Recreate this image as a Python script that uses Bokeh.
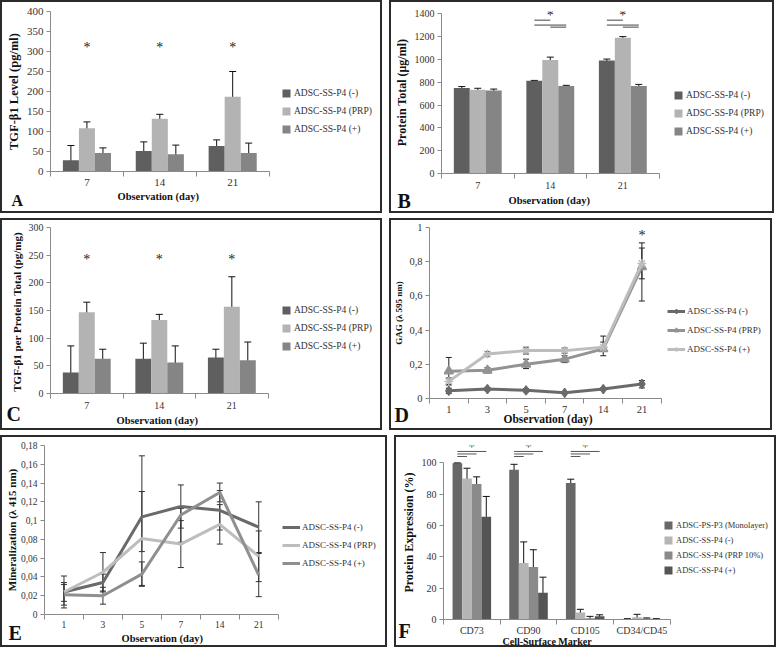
from bokeh.plotting import figure
from bokeh.layouts import column, row
from bokeh.models import (Range1d, FixedTicker, Whisker, TeeHead, Title,
                          ColumnDataSource, Legend, LegendItem)
from bokeh.core.properties import value
from bokeh.embed import file_html
from bokeh.resources import INLINE

SERIF = "Liberation Serif"
PW = 378
AXC = "#8a8a8a"
TXT = "#333333"
HAS_STANDOFF = "standoff" in Title.properties()

# ---------------- data ----------------
days3 = ["7", "14", "21"]
days6 = ["1", "3", "5", "7", "14", "21"]
abc_names = ["ADSC-SS-P4 (-)", "ADSC-SS-P4 (PRP)", "ADSC-SS-P4 (+)"]
bar_colors = ["#5f5f5f", "#b3b3b3", "#858585"]

a_neg = [28, 51, 64];    a_neg_lo = [10, 19, 44];    a_neg_hi = [65, 74, 79]
a_prp = [108, 132, 187]; a_prp_lo = [93, 117, 146];  a_prp_hi = [124, 143, 250]
a_pos = [46, 43, 46];    a_pos_lo = [35, 19, 25];    a_pos_hi = [59, 66, 71]
a_star = [310, 310, 310]

b_neg = [750, 812, 990];  b_neg_lo = [738, 808, 977];  b_neg_hi = [762, 816, 1003]
b_prp = [735, 995, 1190]; b_prp_lo = [723, 970, 1180]; b_prp_hi = [747, 1020, 1200]
b_pos = [728, 768, 768];  b_pos_lo = [716, 763, 755];  b_pos_hi = [740, 773, 781]
b_sig_group = [1, 1, 1, 2, 2, 2]
b_sig_from = [0, 0, 1, 0, 0, 1]
b_sig_to = [1, 2, 2, 1, 2, 2]
b_sig_y = [1344, 1301, 1283, 1344, 1301, 1283]
b_star_group = [1, 2]
b_star_y = [1388, 1388]

c_neg = [38, 63, 65];    c_neg_lo = [12, 24, 42];    c_neg_hi = [86, 91, 80]
c_prp = [147, 133, 157]; c_prp_lo = [138, 117, 122]; c_prp_hi = [165, 143, 211]
c_pos = [63, 56, 60];    c_pos_lo = [55, 24, 31];    c_pos_hi = [80, 86, 93]
c_star = [243, 243, 243]

d_neg = [0.045, 0.055, 0.048, 0.033, 0.055, 0.085]
d_neg_lo = [0.030, 0.045, 0.038, 0.028, 0.047, 0.062]
d_neg_hi = [0.060, 0.065, 0.058, 0.038, 0.063, 0.105]
d_prp = [0.16, 0.165, 0.20, 0.23, 0.29, 0.77]
d_prp_lo = [0.08, 0.15, 0.175, 0.21, 0.25, 0.57]
d_prp_hi = [0.24, 0.18, 0.23, 0.25, 0.33, 0.91]
d_pos = [0.10, 0.26, 0.28, 0.28, 0.30, 0.79]
d_pos_lo = [0.08, 0.245, 0.26, 0.265, 0.28, 0.70]
d_pos_hi = [0.12, 0.275, 0.30, 0.295, 0.365, 0.88]
d_star_idx = [5]
d_star_y = [0.955]

e_neg = [0.024, 0.034, 0.104, 0.115, 0.111, 0.093]
e_neg_lo = [0.014, 0.025, 0.067, 0.092, 0.090, 0.066]
e_neg_hi = [0.034, 0.043, 0.169, 0.138, 0.132, 0.120]
e_prp = [0.024, 0.045, 0.081, 0.075, 0.096, 0.062]
e_prp_lo = [0.007, 0.024, 0.031, 0.050, 0.075, 0.035]
e_prp_hi = [0.041, 0.066, 0.131, 0.100, 0.117, 0.089]
e_pos = [0.021, 0.020, 0.043, 0.106, 0.130, 0.042]
e_pos_lo = [0.010, 0.011, 0.030, 0.077, 0.120, 0.019]
e_pos_hi = [0.032, 0.029, 0.056, 0.113, 0.140, 0.065]

f_cats = ["CD73", "CD90", "CD105", "CD34/CD45"]
f_names = ["ADSC-PS-P3 (Monolayer)", "ADSC-SS-P4 (-)", "ADSC-SS-P4 (PRP 10%)", "ADSC-SS-P4 (+)"]
f_colors = ["#686868", "#b5b5b5", "#8a8a8a", "#555555"]
f_mono = [99.6, 95.5, 87.0, 0.3]; f_mono_lo = [99.3, 92.0, 84.5, 0.1]; f_mono_hi = [99.9, 99.0, 89.5, 0.5]
f_neg = [90.0, 36.0, 4.5, 1.5];   f_neg_lo = [85.5, 24.5, 3.0, 0.0];   f_neg_hi = [96.5, 49.5, 6.5, 3.3]
f_prp = [86.5, 33.5, 0.8, 0.6];   f_prp_lo = [80.0, 17.0, 0.0, 0.2];   f_prp_hi = [91.0, 44.5, 2.0, 1.0]
f_pos = [65.5, 17.0, 2.0, 0.3];   f_pos_lo = [47.0, 11.0, 1.0, 0.1];   f_pos_hi = [78.5, 27.0, 3.0, 0.5]
f_sig_group = [0, 0, 0, 1, 1, 1, 2, 2, 2]
f_sig_to = [1, 2, 3, 1, 2, 3, 1, 2, 3]
f_sig_y = [104.0, 105.6, 107.2, 104.0, 105.6, 107.2, 104.0, 105.6, 107.2]
f_star_group = [0, 1, 2]
f_star_y = [110, 110, 110]


def make_fig(n, xlabels, yr, yticks, ybounds, ylabel, yl_size, xlabel, xl_size, xl_off,
             letter, L, plot_w, top, fh, bottom, tick_size="10px", comma=False, yl_standoff=3,
             x_standoff=3, t1_standoff=1, letter_size="20px", letter_x=4, letter_standoff=-26):
    fw = PW - L
    p = figure(frame_width=fw, frame_height=fh, x_range=Range1d(0, n * fw / plot_w),
               y_range=Range1d(*yr), output_backend="svg", toolbar_location=None,
               min_border_left=L, min_border_right=0, min_border_top=top, min_border_bottom=bottom)
    p.styles = {"border": "2px solid #2b2b2b"}
    p.grid.visible = False
    p.outline_line_color = None
    xa = p.xaxis[0]
    xa.ticker = FixedTicker(ticks=[i + 0.5 for i in range(n)], minor_ticks=list(range(n + 1)))
    xa.major_label_overrides = {i + 0.5: lab for i, lab in enumerate(xlabels)}
    xa.bounds = (0, n)
    xa.major_tick_in = 0
    xa.major_tick_out = 0
    xa.minor_tick_in = 0
    xa.minor_tick_out = 5
    xa.major_label_standoff = x_standoff
    ya = p.yaxis[0]
    ya.ticker = FixedTicker(ticks=yticks)
    if comma:
        ya.major_label_overrides = {t: str(t).replace(".", ",") for t in yticks}
    ya.major_tick_in = 0
    ya.major_tick_out = 4
    ya.major_label_standoff = 3
    ya.bounds = ybounds
    for ax in (xa, ya):
        ax.axis_line_color = AXC
        ax.major_tick_line_color = AXC
        ax.major_label_text_font = SERIF
        ax.major_label_text_font_size = tick_size
        ax.major_label_text_color = TXT
    xa.minor_tick_line_color = AXC
    ya.minor_tick_line_color = None
    ya.axis_label = ylabel
    ya.axis_label_text_font = SERIF
    ya.axis_label_text_font_style = "bold"
    ya.axis_label_text_font_size = yl_size
    ya.axis_label_text_color = "#111111"
    ya.axis_label_standoff = yl_standoff
    t1 = Title(text=xlabel, align="left", offset=xl_off, text_font=SERIF,
               text_font_style="bold", text_font_size=xl_size, text_color="#111111")
    t2 = Title(text=letter, align="left", offset=letter_x - L, text_font=SERIF,
               vertical_align="top", text_font_style="bold", text_font_size=letter_size,
               text_color="#111111")
    if HAS_STANDOFF:
        t1.standoff = t1_standoff
        t2.standoff = letter_standoff
    p.add_layout(t1, "below")
    p.add_layout(t2, "below")
    return p


def whisk(p, xs, lo, hi, size=7, color="#111111"):
    src = ColumnDataSource(dict(x=xs, lo=lo, hi=hi))
    w = Whisker(base="x", lower="lo", upper="hi", source=src, line_color=color, line_width=1,
                upper_head=TeeHead(size=size, line_color=color, line_width=1),
                lower_head=TeeHead(size=size, line_color=color, line_width=1))
    p.add_layout(w)


def add_legend(p, items, x, y, font="9.5px", spacing=8, gw=10, gh=10, standoff=3):
    leg = Legend(items=items, location=(x, y), border_line_color=None,
                 background_fill_alpha=0, label_text_font=SERIF, label_text_font_size=font,
                 label_text_color=TXT, glyph_width=gw, glyph_height=gh, spacing=spacing,
                 label_standoff=standoff, padding=0, margin=0, label_height=10)
    p.add_layout(leg)


def stars(p, xs, ys):
    p.text(x=xs, y=ys, text=["*"] * len(xs), text_align="center", text_baseline="middle",
           text_font=value(SERIF), text_font_size="14px", text_color="#222222")


def bar_panel(p, means, los, his, names, colors, n, width):
    k = len(means)
    items = []
    for j in range(k):
        off = (j - (k - 1) / 2) * width
        xs = [i + 0.5 + off for i in range(n)]
        r = p.vbar(x=xs, top=means[j], width=width, bottom=0, fill_color=colors[j], line_color=None)
        whisk(p, xs, los[j], his[j])
        items.append(LegendItem(label=names[j], renderers=[r]))
    return items


# ---------------- Panel A ----------------
pA = make_fig(3, days3, (0, 400), list(range(0, 401, 50)), (0, 400), "TGF-\u03b21 Level (pg/ml)",
              "12.5px", "Observation (day)", "10.5px", 67, "A", 48, 216, 9, 156, 44,
              tick_size="11px", x_standoff=2, t1_standoff=1, letter_size="16px", letter_x=9,
              letter_standoff=-22)
itA = bar_panel(pA, [a_neg, a_prp, a_pos], [a_neg_lo, a_prp_lo, a_pos_lo],
                [a_neg_hi, a_prp_hi, a_pos_hi], abc_names, bar_colors, 3, 0.22)
stars(pA, [i + 0.5 for i in range(3)], a_star)
add_legend(pA, itA, 231, 37)

# ---------------- Panel B ----------------
pB = make_fig(3, days3, (0, 1420), list(range(0, 1401, 200)), (0, 1400), "Protein Total (\u03bcg/ml)",
              "12px", "Observation  (day)", "10.5px", 67, "B", 47, 215, 7, 158, 44,
              x_standoff=3, t1_standoff=3, letter_x=3, letter_standoff=-35)
itB = bar_panel(pB, [b_neg, b_prp, b_pos], [b_neg_lo, b_prp_lo, b_pos_lo],
                [b_neg_hi, b_prp_hi, b_pos_hi], abc_names, bar_colors, 3, 0.22)
pB.segment(x0=[g + 0.5 + (f - 1) * 0.22 for g, f in zip(b_sig_group, b_sig_from)],
           x1=[g + 0.5 + (t - 1) * 0.22 for g, t in zip(b_sig_group, b_sig_to)],
           y0=b_sig_y, y1=b_sig_y, line_color="#444444", line_width=1)
stars(pB, [g + 0.5 for g in b_star_group], b_star_y)
add_legend(pB, itB, 232, 37)

# ---------------- Panel C ----------------
pC = make_fig(3, days3, (0, 300), list(range(0, 301, 50)), (0, 300),
              "TGF-\u03b21 per  Protein Total (pg/mg)", "11px", "Observation (day)", "10.5px", 66,
              "C", 48, 215, 7, 162, 39, x_standoff=3, t1_standoff=3, letter_x=4,
              letter_standoff=-49)
itC = bar_panel(pC, [c_neg, c_prp, c_pos], [c_neg_lo, c_prp_lo, c_pos_lo],
                [c_neg_hi, c_prp_hi, c_pos_hi], abc_names, bar_colors, 3, 0.22)
stars(pC, [i + 0.5 for i in range(3)], c_star)
add_legend(pC, itC, 231, 42)

# ---------------- Panel D ----------------
pD = make_fig(6, days6, (0, 1), [0, 0.2, 0.4, 0.6, 0.8, 1], (0, 1), "GAG (\u03bb 595 nm)", "9px",
              "Observation (day)", "11.5px", 74, "D", 37, 229, 6, 167, 35, tick_size="10.5px",
              comma=True, yl_standoff=2, x_standoff=2, t1_standoff=-9, letter_x=2,
              letter_standoff=-33)
xs6 = [i + 0.5 for i in range(6)]
d_cols = ["#6a6a6a", "#939393", "#bdbdbd"]
d_markers = ["diamond", "triangle", "asterisk"]
itD = []
for vals, lo, hi, col, mk, nm in zip([d_neg, d_prp, d_pos], [d_neg_lo, d_prp_lo, d_pos_lo],
                                      [d_neg_hi, d_prp_hi, d_pos_hi], d_cols, d_markers, abc_names):
    rl = pD.line(xs6, vals, line_color=col, line_width=3)
    rm = pD.scatter(xs6, vals, marker=mk, size=9, fill_color=col, line_color=col, line_width=1.5)
    whisk(pD, xs6, lo, hi, size=6, color="#222222")
    itD.append(LegendItem(label=nm, renderers=[rl, rm]))
stars(pD, [i + 0.5 for i in d_star_idx], d_star_y)
add_legend(pD, itD, 238, 44, font="9px", gw=18, spacing=9, standoff=2)

# ---------------- Panel E ----------------
pE = make_fig(6, days6, (0, 0.18), [0, 0.02, 0.04, 0.06, 0.08, 0.1, 0.12, 0.14, 0.16, 0.18],
              (0, 0.18), "Mineralization (\u03bb 415 nm)", "11px", "Observation (day)", "10.5px", 77,
              "E", 37, 231, 8, 165, 35, tick_size="9.5px", comma=True, yl_standoff=0,
              x_standoff=1, t1_standoff=1, letter_x=1, letter_standoff=-46)
e_cols = ["#6a6a6a", "#bdbdbd", "#8f8f8f"]
itE = []
for vals, lo, hi, col, nm in zip([e_neg, e_prp, e_pos], [e_neg_lo, e_prp_lo, e_pos_lo],
                                  [e_neg_hi, e_prp_hi, e_pos_hi], e_cols, abc_names):
    rl = pE.line(xs6, vals, line_color=col, line_width=3)
    whisk(pE, xs6, lo, hi, size=6, color="#333333")
    itE.append(LegendItem(label=nm, renderers=[rl]))
add_legend(pE, itE, 238, 46, font="9px", gw=18, spacing=8, standoff=2)

# ---------------- Panel F ----------------
pF = make_fig(4, f_cats, (0, 111), list(range(0, 101, 20)), (0, 100), "Protein Expression (%)",
              "12px", "Cell-Surface Marker", "10px", 59, "F", 47, 224, 5, 170, 33,
              x_standoff=0, t1_standoff=-9, letter_x=2, letter_standoff=-45)
itF = bar_panel(pF, [f_mono, f_neg, f_prp, f_pos], [f_mono_lo, f_neg_lo, f_prp_lo, f_pos_lo],
                [f_mono_hi, f_neg_hi, f_prp_hi, f_pos_hi], f_names, f_colors, 4, 0.17)
pF.segment(x0=[g + 0.5 - 1.5 * 0.17 for g in f_sig_group],
           x1=[g + 0.5 + (t - 1.5) * 0.17 for g, t in zip(f_sig_group, f_sig_to)],
           y0=f_sig_y, y1=f_sig_y, line_color="#555555", line_width=1)
stars(pF, [g + 0.5 for g in f_star_group], f_star_y)
add_legend(pF, itF, 220, 44, font="8.5px", spacing=5)

layout = column(row(pA, pB, spacing=7), row(pC, pD, spacing=7), row(pE, pF, spacing=7), spacing=5)
open("out.html", "w").write(file_html(layout, INLINE))
